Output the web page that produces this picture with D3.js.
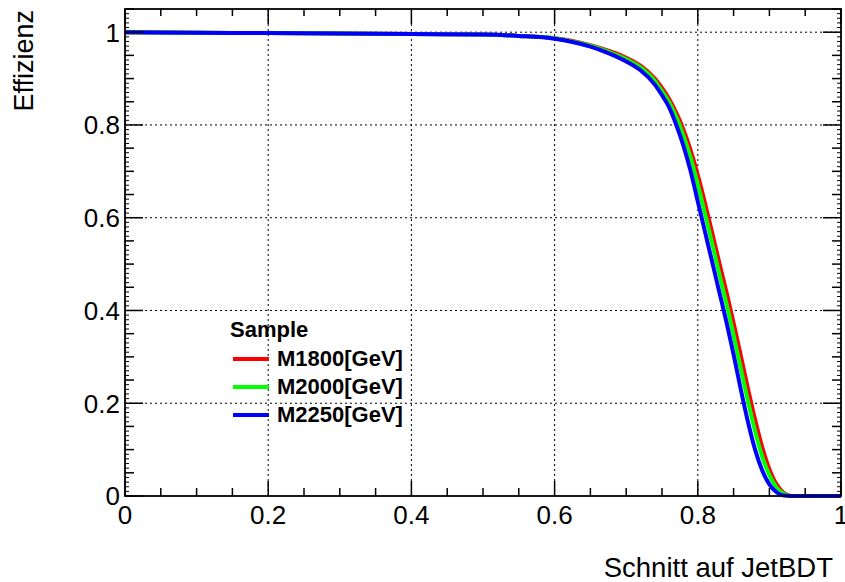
<!DOCTYPE html>
<html>
<head>
<meta charset="utf-8">
<script src="https://cdn.jsdelivr.net/npm/d3@7"></script>
<style>
	body { margin: 0; background: #fff; }
	svg { display: block; font-family: "Liberation Sans", Arial, sans-serif; }
</style>
</head>
<body>
<div id="chart"></div>
<script>
'use strict';

// cut values on JetBDT
var cuts = [0, 0.1, 0.2, 0.3, 0.4, 0.5, 0.55, 0.6, 0.625, 0.65, 0.675, 0.7, 0.72, 0.74, 0.75, 0.76, 0.77, 0.78, 0.79, 0.8,
			0.81, 0.82, 0.83, 0.84, 0.85, 0.86, 0.87, 0.88, 0.89, 0.9, 0.91, 0.92, 0.93, 0.96, 1.0];

var effM1800 = [1.0, 0.999, 0.998, 0.997, 0.996, 0.995, 0.992, 0.987, 0.981, 0.972, 0.960, 0.945, 0.928, 0.900, 0.880, 0.856, 0.826, 0.790, 0.745, 0.692,
				0.632, 0.568, 0.503, 0.440, 0.373, 0.303, 0.232, 0.165, 0.105, 0.058, 0.025, 0.007, 0, 0, 0];
var effM2000 = [1.0, 0.999, 0.998, 0.997, 0.996, 0.995, 0.992, 0.987, 0.980, 0.971, 0.958, 0.942, 0.924, 0.895, 0.873, 0.849, 0.817, 0.777, 0.729, 0.672,
				0.609, 0.545, 0.479, 0.415, 0.347, 0.275, 0.205, 0.140, 0.085, 0.045, 0.018, 0.005, 0, 0, 0];
var effM2250 = [1.0, 0.999, 0.998, 0.997, 0.996, 0.995, 0.992, 0.986, 0.979, 0.969, 0.955, 0.937, 0.918, 0.887, 0.864, 0.838, 0.800, 0.755, 0.700, 0.635,
				0.570, 0.505, 0.440, 0.375, 0.305, 0.230, 0.160, 0.100, 0.055, 0.025, 0.008, 0.001, 0, 0, 0];

var seriesNames = ["M1800[GeV]", "M2000[GeV]", "M2250[GeV]"];
var seriesColors = ["#ff0000", "#00ff00", "#0000ff"];
var seriesValues = [effM1800, effM2000, effM2250];

var xTicks = [0, 0.2, 0.4, 0.6, 0.8, 1];
var yTicks = [0, 0.2, 0.4, 0.6, 0.8, 1];

var W = 845, H = 582;
var frame = { l:125, r:841, t:9, b:496 };

var svg = d3.select("#chart").append("svg")
			.attr("width", W)
			.attr("height", H);

var x = d3.scaleLinear().domain([0, 1]).range([frame.l, frame.r]);
var y = d3.scaleLinear().domain([0, 1.05]).range([frame.b, frame.t]);

// grid
var grid = svg.append("g").attr("class", "grid")
			  .attr("stroke", "#000")
			  .attr("stroke-width", 1)
			  .attr("stroke-dasharray", "2,3");

grid.selectAll("line.gx").data(xTicks.filter(d => d > 0 && d < 1)).enter()
	.append("line")
	.attr("x1", d => x(d)).attr("x2", d => x(d))
	.attr("y1", frame.t).attr("y2", frame.b);

grid.selectAll("line.gy").data(yTicks.filter(d => d > 0)).enter()
	.append("line")
	.attr("x1", frame.l).attr("x2", frame.r)
	.attr("y1", d => y(d)).attr("y2", d => y(d));

// curves
var line = d3.line().curve(d3.curveMonotoneX);
var curves = svg.append("g").attr("class", "curves");

seriesValues.forEach(function(vals, i) {
	curves.append("path")
		  .attr("d", line(cuts.map((c, k) => [x(c), y(vals[k])])))
		  .attr("fill", "none")
		  .attr("stroke", seriesColors[i])
		  .attr("stroke-width", 4)
		  .attr("stroke-linejoin", "round");
});

// axes with ROOT style ticks on all four sides
function ticks(step, max) {
	var out = [];
	for (var v = 0; v <= max + 1e-9; v += step) out.push(+v.toFixed(4));
	return out;
}

var axes = svg.append("g").attr("class", "axis")
			  .attr("stroke", "#000")
			  .attr("stroke-width", 1.5);

var xMinor = ticks(0.05, 1);
xMinor.forEach(function(v) {
	var major = Math.abs(v * 5 - Math.round(v * 5)) < 1e-6;
	var len = major ? 15 : 8;
	axes.append("line").attr("x1", x(v)).attr("x2", x(v)).attr("y1", frame.b).attr("y2", frame.b - len);
	axes.append("line").attr("x1", x(v)).attr("x2", x(v)).attr("y1", frame.t).attr("y2", frame.t + (major ? 15 : 7));
});

var yFine = ticks(0.01, 1.05);
yFine.forEach(function(v) {
	var major = Math.abs(v * 5 - Math.round(v * 5)) < 1e-6;
	var mid = Math.abs(v * 20 - Math.round(v * 20)) < 1e-6;
	var len = major ? 18 : (mid ? 9 : 4);
	axes.append("line").attr("x1", frame.l).attr("x2", frame.l + len).attr("y1", y(v)).attr("y2", y(v))
		.attr("stroke-width", major || mid ? 1.5 : 1);
	axes.append("line").attr("x1", frame.r).attr("x2", frame.r - len).attr("y1", y(v)).attr("y2", y(v))
		.attr("stroke-width", major || mid ? 1.5 : 1);
});

svg.append("rect")
   .attr("x", frame.l).attr("y", frame.t)
   .attr("width", frame.r - frame.l).attr("height", frame.b - frame.t)
   .attr("fill", "none").attr("stroke", "#000").attr("stroke-width", 1.8);

// tick labels
var fmt = d => d === 0 ? "0" : d === 1 ? "1" : d3.format(".1f")(d);

svg.append("g").selectAll("text").data(xTicks).enter()
   .append("text")
   .attr("x", d => x(d)).attr("y", 524)
   .attr("text-anchor", "middle")
   .attr("font-size", 26)
   .text(fmt);

svg.append("g").selectAll("text").data(yTicks).enter()
   .append("text")
   .attr("x", 120).attr("y", d => y(d))
   .attr("dy", "0.36em")
   .attr("text-anchor", "end")
   .attr("font-size", 26)
   .text(fmt);

// axis titles
svg.append("text")
   .attr("x", 833).attr("y", 577)
   .attr("text-anchor", "end")
   .attr("font-size", 27.5)
   .text("Schnitt auf JetBDT");

svg.append("text")
   .attr("transform", "translate(33,10) rotate(-90)")
   .attr("text-anchor", "end")
   .attr("font-size", 27)
   .text("Effizienz");

// legend
var legend = svg.append("g").attr("class", "legend")
				.attr("font-weight", "bold")
				.attr("font-size", 22);

legend.append("text").attr("x", 230).attr("y", 337).text("Sample");

seriesNames.forEach(function(name, i) {
	var ly = 359 + i * 28;
	legend.append("line")
		  .attr("x1", 233).attr("x2", 269)
		  .attr("y1", ly).attr("y2", ly)
		  .attr("stroke", seriesColors[i])
		  .attr("stroke-width", 4);
	legend.append("text").attr("x", 277).attr("y", ly + 7).text(name);
});
</script>
</body>
</html>
